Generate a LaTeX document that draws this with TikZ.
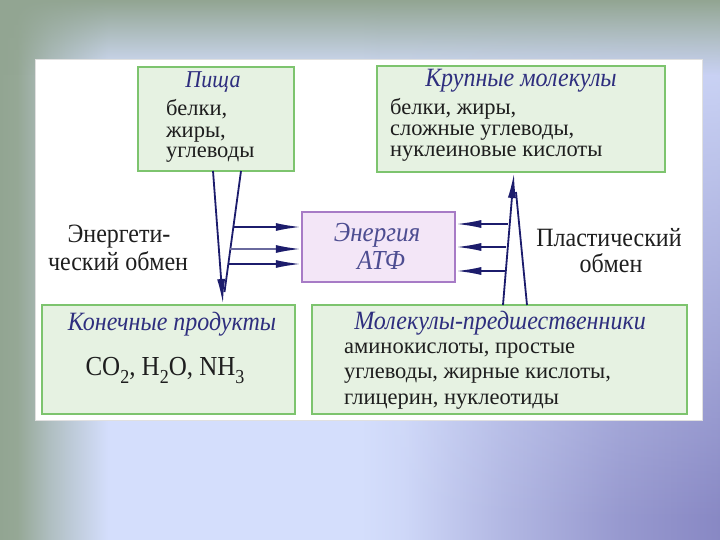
\documentclass[tikz,border=0pt]{standalone}
\usepackage{fontspec}
\setmainfont{Liberation Serif}
\usetikzlibrary{arrows.meta,fadings}
\definecolor{boxgreen}{HTML}{7DC46E}
\definecolor{fillgreen}{HTML}{E6F2E2}
\definecolor{atpborder}{HTML}{A77BC6}
\definecolor{atpfill}{HTML}{F3E6F7}
\definecolor{navy}{HTML}{1C1C6C}
\definecolor{midarrow}{HTML}{6A6A9E}
\definecolor{titlec}{HTML}{2E2E7E}
\definecolor{textc}{HTML}{1E1E1E}
\definecolor{bggreen}{HTML}{92A592}
\definecolor{bgblue}{HTML}{D4DEFC}
\definecolor{bgpurple}{HTML}{8888C4}
\pgfdeclarehorizontalshading{bgh}{100bp}{color(0bp)=(bggreen); color(25bp)=(bggreen); color(26.2bp)=(bggreen!97!white); color(28.5bp)=(bggreen!55!bgblue); color(32.5bp)=(bgblue); color(50bp)=(bgblue); color(53bp)=(bgblue!92!bgpurple); color(60bp)=(bgblue!55!bgpurple); color(68bp)=(bgblue!20!bgpurple); color(75bp)=(bgpurple); color(100bp)=(bgpurple)}
\newcommand\sbs[1]{\raisebox{-0.32em}{\fontsize{18}{18}\selectfont #1}}
\newcommand\ys[1]{\scalebox{1}[1.1]{#1}}
\begin{document}
\begin{tikzpicture}[x=1pt,y=-1pt,
  gbox/.style={draw=boxgreen, fill=fillgreen, line width=2.5pt, inner sep=0pt},
  abox/.style={draw=atpborder, fill=atpfill, line width=2.5pt, inner sep=0pt},
  ttl/.style={font=\fontsize{24}{24}\selectfont\itshape, text=titlec, inner sep=0pt, anchor=base},
  txt/.style={font=\fontsize{22.5}{22.5}\selectfont, text=textc, inner sep=0pt, anchor=base west},
  ctxt/.style={font=\fontsize{24}{24}\selectfont, text=textc, inner sep=0pt, anchor=base},
  arr/.style={draw=navy, line width=1.8pt, -{Latex[length=25pt,width=8pt]}},
  ln/.style={draw=navy, line width=1.8pt}]
\useasboundingbox (0,0) rectangle (720,540);
% background
\shade[shading=bgh] (0,0) rectangle (720,540);
\fill[bgblue, path fading=south] (380,0) rectangle (720,520);
\fill[bggreen, path fading=south] (0,0) rectangle (720,75);
\fill[white] (35,59) rectangle (702,420);
\draw[black!12, line width=0.6pt] (35,59) rectangle (702,420);
% boxes
\node[gbox, minimum width=156, minimum height=104] (pisha) at (216,119) {};
\node[gbox, minimum width=288, minimum height=106] (krup) at (521,119) {};
\node[abox, minimum width=153, minimum height=70] (atp) at (378.5,247) {};
\node[gbox, minimum width=253, minimum height=109] (kon) at (168.5,359.5) {};
\node[gbox, minimum width=375, minimum height=109] (mol) at (499.5,359.5) {};
% texts
\node[ttl, font=\fontsize{22}{22}\selectfont\itshape] (t1) at (213,88) {\ys{Пища}};
\node[txt] (t1a) at (166,116) {белки,};
\node[txt] (t1b) at (166,137.5) {жиры,};
\node[txt] (t1c) at (166,158) {углеводы};
\node[ttl] (t2) at (521,87) {\ys{Крупные молекулы}};
\node[txt] (t2a) at (390,115) {белки, жиры,};
\node[txt] (t2b) at (390,136) {сложные углеводы,};
\node[txt] (t2c) at (390,156.5) {нуклеиновые кислоты};
\node[ttl, font=\fontsize{25}{25}\selectfont\itshape, text=titlec!85!white] (t3) at (377,241) {\ys{Энергия}};
\node[ttl, font=\fontsize{25}{25}\selectfont\itshape, text=titlec!85!white] (t3b) at (381,269) {\ys{АТФ}};
\node[ctxt] (e1) at (119,243) {\ys{Энергети-}};
\node[ctxt] (e2) at (118,270) {\ys{ческий обмен}};
\node[ctxt] (p1) at (609,246) {\ys{Пластический}};
\node[ctxt] (p2) at (611,272) {\ys{обмен}};
\node[ttl] (t4) at (172,330) {\ys{Конечные продукты}};
\node[ctxt, font=\fontsize{25}{25}\selectfont] (t4a) at (165,375) {\ys{CO\sbs{2}, H\sbs{2}O, NH\sbs{3}}};
\node[ttl] (t5) at (500,329.5) {\ys{Молекулы-предшественники}};
\node[txt] (t5a) at (344,353) {аминокислоты, простые};
\node[txt] (t5b) at (344,378.5) {углеводы, жирные кислоты,};
\node[txt] (t5c) at (344,404) {глицерин, нуклеотиды};
% connector points
\coordinate (la1) at (213,171);
\coordinate (la2) at (223,304);
\coordinate (lb1) at (241,171);
\coordinate (lb2) at (224.5,292);
\coordinate (h1) at (233,227);
\coordinate (h2) at (230,249);
\coordinate (h3) at (228,264);
\coordinate (ra1) at (503,305);
\coordinate (ra2) at (514,173);
\coordinate (rb1) at (527,305);
\coordinate (rb2) at (516,192);
\coordinate (g1) at (507.5,224);
\coordinate (g2) at (506,247);
\coordinate (g3) at (505,271);
% connectors
\draw[arr] (la1) -- (la2);
\draw[ln] (lb1) -- (lb2);
\draw[arr] (h1) -- (h1 -| atp.west);
\draw[arr, draw=midarrow, -{Latex[length=25pt,width=8pt,color=navy]}] (h2) -- (h2 -| atp.west);
\draw[arr] (h3) -- (h3 -| atp.west);
\draw[arr] (ra1) -- (ra2);
\draw[ln] (rb1) -- (rb2);
\draw[arr] (g1) -- (g1 -| atp.east);
\draw[arr] (g2) -- (g2 -| atp.east);
\draw[arr] (g3) -- (g3 -| atp.east);
\end{tikzpicture}
\end{document}
